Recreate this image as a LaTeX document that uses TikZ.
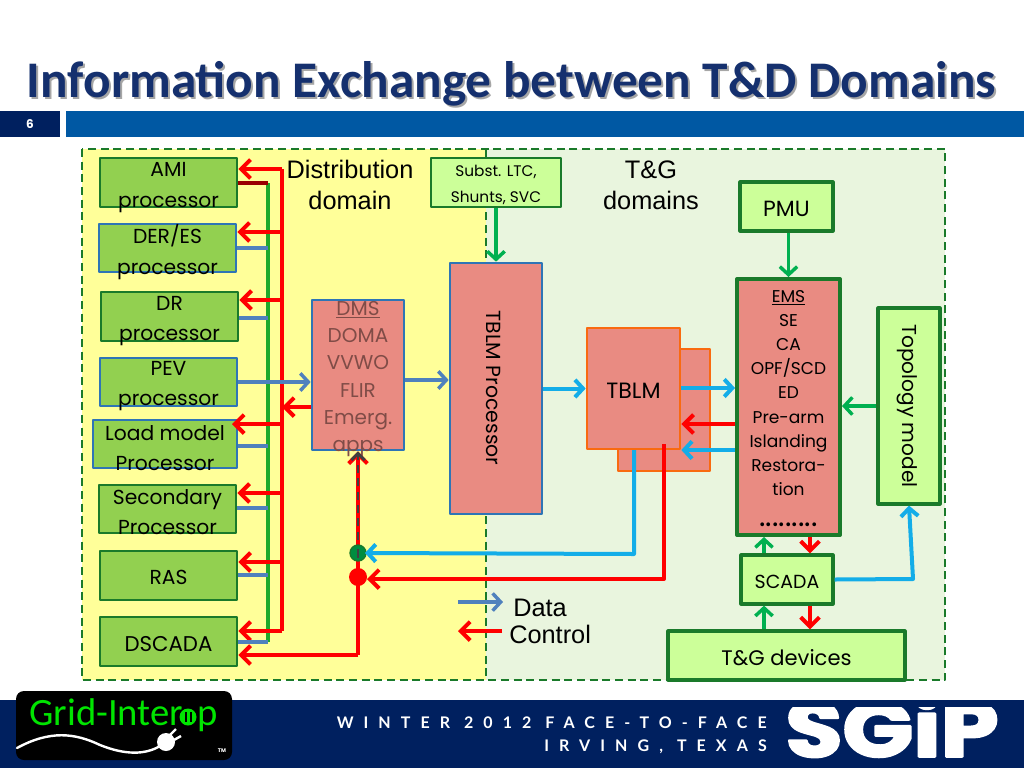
\documentclass[tikz,border=0pt]{standalone}
\usepackage{fontspec}
\usepackage{tikz}
\usetikzlibrary{arrows.meta, positioning}
\setmainfont{Poppins}
\newfontfamily\titlefont{Carlito}
\newfontfamily\armfont{Liberation Sans}
\newfontfamily\logofont{Carlito}
\newfontfamily\footfont[LetterSpace=63]{Lato}
\newfontfamily\sgipfont[FakeBold=3]{Poppins Bold}
\definecolor{navy}{HTML}{00205F}
\definecolor{titleblue}{HTML}{15306E}
\definecolor{barblue}{HTML}{0058A3}
\definecolor{zoneyellow}{HTML}{FFFF99}
\definecolor{zonegreen}{HTML}{E9F5DE}
\definecolor{procgreen}{HTML}{92D050}
\definecolor{limegreen}{HTML}{CCFF99}
\definecolor{salmon}{HTML}{E98B82}
\definecolor{darkgreen}{HTML}{1A7A2A}
\definecolor{edgeblue}{HTML}{2E75B6}
\definecolor{datablue}{HTML}{4F81BD}
\definecolor{skyblue}{HTML}{13ADE8}
\definecolor{arrowgreen}{HTML}{00B050}
\definecolor{busgreen}{HTML}{1EAA2A}
\definecolor{edgeorange}{HTML}{F96A10}
\tikzset{
  zone/.style={draw=darkgreen, line width=1.8pt, dash pattern=on 6pt off 3.5pt},
  procbox/.style={draw=darkgreen, fill=procgreen, line width=2pt, inner sep=0pt},
  bluebox/.style={procbox, draw=edgeblue},
  limebox/.style={draw=darkgreen, fill=limegreen, line width=2.4pt, inner sep=0pt},
  redbox/.style={fill=salmon, draw=edgeblue, line width=2pt, inner sep=0pt},
  tblmbox/.style={fill=salmon, draw=edgeorange, line width=2pt, inner sep=0pt},
  label/.style={font=\fontsize{15.2}{23}\selectfont, align=center, inner sep=0pt},
  armlabel/.style={font=\armfont\fontsize{19}{23}\selectfont, align=center, inner sep=0pt},
  sized/.style args={#1x#2}{minimum width=#1*0.75pt, minimum height=#2*0.75pt},
  ctrl/.style={red, line width=3pt, -{Straight Barb[length=7pt, width=14pt, line width=3pt]}},
  ctrlline/.style={red, line width=3pt},
  data/.style={datablue, line width=2.6pt, -{Straight Barb[length=6pt, width=13pt, line width=2.6pt]}},
  dataline/.style={datablue, line width=2.6pt},
  feed/.style={skyblue, line width=3pt, -{Straight Barb[length=6pt, width=13pt, line width=3pt]}},
  link/.style={arrowgreen, line width=2.6pt, -{Straight Barb[length=6pt, width=13pt, line width=2.6pt]}}
}
\begin{document}
\begin{tikzpicture}[x=0.75pt, y=-0.75pt, line join=round]
    \useasboundingbox (0,0) rectangle (1024,768);
    \fill[white] (0,0) rectangle (1024,768);

    % Title and bars
    \node[font=\titlefont\bfseries\fontsize{38.5}{40}\selectfont, text=black!35, inner sep=0pt]
      (titleshade) at (513.5,85.5) {Information Exchange between T\&D Domains};
    \node[font=\titlefont\bfseries\fontsize{38.5}{40}\selectfont, text=titleblue, inner sep=0pt]
      (title) at (511.5,83.5) {Information Exchange between T\&D Domains};
    \fill[navy] (0,111) rectangle (60,137);
    \fill[barblue] (66,111) rectangle (1024,137);
    \node[font=\bfseries\fontsize{9}{10}\selectfont, text=white] (pagenum) at (30,124) {6};
    \fill[navy] (0,700) rectangle (1024,768);

    % Domains
    \fill[zoneyellow] (82,149) rectangle (486,680);
    \fill[zonegreen] (486,149) rectangle (945,680);
    \draw[zone] (82,149) rectangle (945,680);
    \draw[zone] (486,149) -- (486,680);
    \node[armlabel] (distlabel) at (350,185) {Distribution\\domain};
    \node[armlabel] (tglabel) at (651,185) {T\&G\\domains};

    % Buses behind the processors
    \coordinate (greenbus) at (268,183);
    \coordinate (redbus) at (282,169);
    \draw[busgreen, line width=2.8pt] (greenbus) -- (268,642);
    \draw[ctrlline] (redbus) -- (282,631);

    % Processors
    \node[procbox, sized=137x49] (ami) at (168.5,182.5) {};
    \node[bluebox, sized=137x48] (der) at (167.5,248) {};
    \node[procbox, sized=137x49] (dr) at (169.5,316.5) {};
    \node[bluebox, sized=137x48] (pev) at (168.5,382) {};
    \node[bluebox, sized=144x48] (load) at (165,444) {};
    \node[procbox, sized=137x48] (sec) at (167.5,509) {};
    \node[procbox, sized=137x49] (ras) at (168.5,575.5) {};
    \node[procbox, sized=137x49] (dscada) at (168.5,641.5) {};
    \node[label] (amitext) at (168.5,187.5) {AMI\\processor};
    \node[label] (dertext) at (167.5,252) {DER/ES\\processor};
    \node[label] (drtext) at (169.5,321) {DR\\processor};
    \node[label] (pevtext) at (168.5,386) {PEV\\processor};
    \node[label] (loadtext) at (165,448) {Load model\\Processor};
    \node[label] (sectext) at (167.5,512) {Secondary\\Processor};
    \node[label] (rastext) at (168.5,577) {RAS};
    \node[label, font=\fontsize{16}{23}\selectfont] (dscadatext) at (168.5,644) {DSCADA};

    % Control into and data out of the processors
    \foreach \nm/\yy in {ami/169, der/232, dr/300, sec/493, ras/562, dscada/631}
      \draw[ctrl] (redbus |- 0,\yy) -- (\nm.east |- 0,\yy);
    \draw[ctrl] (redbus |- 0,424) -- (232,424);
    \foreach \nm/\yy in {der/248, dr/318, load/446, sec/508, ras/575, dscada/642}
      \draw[dataline] (\nm.east |- 0,\yy) -- (greenbus |- 0,\yy);
    \draw[red!60!black, line width=2.6pt] (ami.east |- greenbus) -- (greenbus);

    % DMS
    \node[redbox, sized=92x150] (dms) at (358,375) {};
    \node[label, text=black!45!salmon, font=\fontsize{15}{20.4}\selectfont] (dmstext) at (358,379)
      {\underline{DMS}\\DOMA\\VVWO\\FLIR\\Emerg.\\apps};
    \draw[data] (pev.east) -- (dms.west |- pev.east);
    \draw[ctrl] (dms.west |- 0,407) -- (redbus |- 0,407);

    % Return paths to DMS
    \coordinate (tapgreen) at (358,553);
    \coordinate (tapred) at (358,577);
    \draw[ctrlline] (358,655) -- (tapred);
    \draw[ctrl] (358,655) -- (dscada.east |- 0,655);
    \draw[ctrl] (tapred) -- (dms.south);
    \draw[black!75, line width=2.2pt, dash pattern=on 6pt off 4pt, -{Straight Barb[length=5pt, width=10pt, line width=2.2pt]}] (tapgreen) -- (dms.south);
    \fill[red] (tapred) circle (9);
    \draw[fill=arrowgreen!80!black, draw=darkgreen, line width=1pt] (tapgreen) circle (8);
    \draw[black!75, line width=2.2pt] (358,549) -- (358,558);

    % TBLM
    \node[redbox, sized=92x251] (tblmproc) at (496,388.5) {};
    \node[label, rotate=-90, font=\fontsize{15.3}{16}\selectfont] (tblmproctext) at (494,388) {TBLM Processor};
    \node[tblmbox, sized=92x122] (tblmback) at (664,410) {};
    \node[tblmbox, sized=93x121] (tblm) at (633.5,388.5) {};
    \node[label, font=\fontsize{16.6}{18}\selectfont] (tblmtext) at (633.5,391) {TBLM};
    \draw[data] (dms.east |- 0,380) -- (tblmproc.west |- 0,380);
    \draw[feed] (tblmproc.east |- tblm.west) -- (tblm.west);

    % T&G side
    \node[limebox, sized=130x49, line width=2pt] (subst) at (496,182.5) {};
    \node[label, font=\fontsize{11.5}{19.5}\selectfont] (substtext) at (496,185) {Subst. LTC,\\Shunts, SVC};
    \node[limebox, sized=93x49] (pmu) at (786.5,206.5) {};
    \node[label, font=\fontsize{16.5}{18}\selectfont] (pmutext) at (786.5,209) {PMU};
    \node[limebox, sized=103x256, fill=salmon, line width=3pt] (ems) at (788.5,407) {};
    \node[label, font=\fontsize{12.8}{18.1}\selectfont] (emstext) at (788.5,393)
      {\underline{EMS}\\SE\\CA\\OPF/SCD\\ED\\Pre-arm\\Islanding\\Restora-\\tion};
    \node[label, font=\fontsize{23}{24}\selectfont] (emsdots) at (788.5,525) {.........};
    \node[limebox, sized=62x196] (topo) at (909,406) {};
    \node[label, rotate=-90, font=\fontsize{15.1}{16}\selectfont] (topotext) at (907,406) {Topology model};
    \node[limebox, sized=92x49] (scada) at (787,579.5) {};
    \node[label, font=\fontsize{14.2}{16}\selectfont] (scadatext) at (787,581.5) {SCADA};
    \node[limebox, sized=237x49] (devices) at (786.5,655.5) {};
    \node[label, font=\fontsize{15.8}{18}\selectfont] (devicestext) at (786.5,658) {T\&G devices};

    \draw[link] (subst.south) -- (tblmproc.north -| subst.south);
    \draw[link] (pmu.south -| ems.north) -- (ems.north);
    \draw[link] (topo.west) -- (ems.east |- topo.west);
    \draw[link] (scada.north -| 764,0) -- (ems.south -| 764,0);
    \draw[link] (devices.north -| 764,0) -- (scada.south -| 764,0);
    \draw[ctrl] (ems.south -| 810,0) -- (scada.north -| 810,0);
    \draw[ctrl] (scada.south -| 810,0) -- (devices.north -| 810,0);
    \draw[feed] (tblm.east |- 0,388) -- (ems.west |- 0,388);
    \draw[ctrl] (ems.west |- 0,424) -- (tblm.east |- 0,424);
    \draw[feed] (ems.west |- 0,450) -- (tblm.east |- 0,450);
    \draw[feed] (scada.east) -- (913,579) -- (topo.south);

    % Long returns from TBLM
    \draw[feed] (634,450) -- (634,554) -- (tapgreen -| 365,0);
    \draw[ctrl] (664,444) -- (664,579) -- (367,579);

    % Legend
    \coordinate (datastart) at (458,602);
    \coordinate (dataend) at (503,602);
    \coordinate (ctrlstart) at (502,631);
    \coordinate (ctrlend) at (458,631);
    \draw[data] (datastart) -- (dataend);
    \draw[ctrl] (ctrlstart) -- (ctrlend);
    \node[armlabel, anchor=west] (datatext) at (513,608) {Data};
    \node[armlabel, anchor=west] (controltext) at (509,634) {Control};

    % Footer
    \fill[black, rounded corners=6] (16,691) rectangle (232,760);
    \node[font=\logofont\fontsize{29}{30}\selectfont, text=green!90!black, anchor=base west, inner sep=0pt]
      (gridlogo) at (29,725) {Grid-Inter};
    \node[font=\logofont\fontsize{29}{30}\selectfont, text=green!90!black, anchor=base west, inner sep=0pt]
      (gridlogop) at (197,725) {p};
    \fill[green!90!black] (188,717) circle (8.5);
    \fill[black] (184.5,712) rectangle (186.5,722);
    \fill[black] (189.5,712) rectangle (191.5,722);
    \draw[white, line width=1.8pt, line cap=round]
      (17,748) .. controls (50,730) and (75,733) .. (100,745)
      .. controls (125,755) and (145,755) .. (160,746);
    \fill[white] (166,742) circle (9);
    \draw[white, line width=1.8pt] (170,735) -- (176,729);
    \draw[white, line width=1.8pt] (174,740) -- (181,736);
    \node[font=\bfseries\fontsize{4}{5}\selectfont, text=white, inner sep=0pt] (tmmark) at (222,751) {TM};

    \node[font=\footfont\bfseries\fontsize{12}{17.25}\selectfont, text=white, anchor=east, align=right, inner sep=0pt]
      (foottext) at (767,735) {WINTER 2012 FACE-TO-FACE\\IRVING, TEXAS};
    \begin{scope}
      \clip (780,707) rectangle (1010,768);
      \node[font=\sgipfont\fontsize{58}{60}\selectfont, text=white, inner sep=0pt, xscale=1.2]
        (sgip) at (892,726) {SGiP};
    \end{scope}
\end{tikzpicture}
\end{document}
